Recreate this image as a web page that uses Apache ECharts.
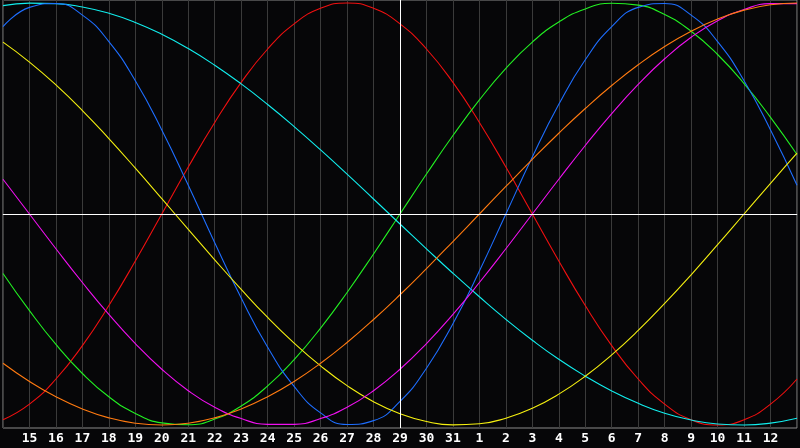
<!DOCTYPE html>
<html><head><meta charset="utf-8">
<script src="https://cdn.jsdelivr.net/npm/echarts@6/dist/echarts.min.js"></script>
<style>html,body{margin:0;padding:0;background:#060608;}#c{width:800px;height:448px;}</style>
</head><body><div id="c"></div>
<script>
var days = ['14','15','16','17','18','19','20','21','22','23','24','25','26','27','28','29','30','31','1','2','3','4','5','6','7','8','9','10','11','12','13'];
var today = '29';
var red = [-0.9749,-0.9010,-0.7818,-0.6235,-0.4339,-0.2225,0,0.2225,0.4339,0.6235,0.7818,0.9010,0.9749,1,0.9749,0.9010,0.7818,0.6235,0.4339,0.2225,0,-0.2225,-0.4339,-0.6235,-0.7818,-0.9010,-0.9749,-1,-0.9749,-0.9010,-0.7818];
var green = [-0.2817,-0.4580,-0.6181,-0.7557,-0.8660,-0.9450,-0.9898,-0.9989,-0.9718,-0.9096,-0.8146,-0.6901,-0.5406,-0.3717,-0.1893,0,0.1893,0.3717,0.5406,0.6901,0.8146,0.9096,0.9718,0.9989,0.9898,0.9450,0.8660,0.7557,0.6181,0.4580,0.2817];
var cyan = [0.9872,0.9991,0.9970,0.9809,0.9511,0.9078,0.8519,0.7839,0.7050,0.6163,0.5189,0.4142,0.3036,0.1886,0.0710,-0.0474,-0.1652,-0.2809,-0.3922,-0.4990,-0.5980,-0.6886,-0.7685,-0.8386,-0.8972,-0.9440,-0.9762,-0.9950,-0.9998,-0.9907,-0.9677];
var blue = [0.8879,0.9791,0.9977,0.9423,0.8170,0.6311,0.3984,0.1362,-0.1362,-0.3984,-0.6311,-0.8170,-0.9423,-0.9977,-0.9791,-0.8879,-0.7308,-0.5196,-0.2698,0,0.2698,0.5196,0.7308,0.8879,0.9791,0.9977,0.9423,0.8170,0.6311,0.3984,0.1362];
var yellow = [0.8142,0.7199,0.6115,0.4903,0.3572,0.2173,0.0730,-0.0730,-0.2173,-0.3572,-0.4903,-0.6115,-0.7199,-0.8133,-0.8893,-0.9464,-0.9834,-0.9993,-0.9940,-0.9675,-0.9203,-0.8536,-0.7687,-0.6673,-0.5516,-0.4236,-0.2879,-0.1455,0,0.1455,0.2879];
var magenta = [0.1646,0,-0.1646,-0.3247,-0.4759,-0.6142,-0.7357,-0.8372,-0.9158,-0.9694,-0.9966,-0.9966,-0.9694,-0.9158,-0.8372,-0.7357,-0.6142,-0.4759,-0.3247,-0.1646,0,0.1646,0.3247,0.4759,0.6142,0.7357,0.8372,0.9158,0.9694,0.9966,0.9966];
var orange = [-0.7071,-0.7934,-0.8660,-0.9239,-0.9659,-0.9914,-1,-0.9914,-0.9659,-0.9239,-0.8660,-0.7934,-0.7071,-0.6088,-0.5,-0.3827,-0.2588,-0.1305,0,0.1305,0.2588,0.3827,0.5,0.6088,0.7071,0.7934,0.8660,0.9239,0.9659,0.9914,1];

var seriesDefs = [
  {name:'red', data:red, color:'#f01010'},
  {name:'green', data:green, color:'#22f022'},
  {name:'cyan', data:cyan, color:'#11eeee'},
  {name:'blue', data:blue, color:'#1e6eff'},
  {name:'yellow', data:yellow, color:'#f5f010'},
  {name:'magenta', data:magenta, color:'#f010f0'},
  {name:'orange', data:orange, color:'#ff7a10'}
];
var chart = echarts.init(document.getElementById('c'));
var series = seriesDefs.map(function(s){
  return {type:'line', name:s.name, data:s.data, smooth:0.5, symbol:'none', silent:true,
    lineStyle:{color:s.color, width:1.1}, itemStyle:{color:s.color}, z:3, animation:false};
});
series.push({type:'line', data:[], silent:true, animation:false, z:2,
  markLine:{silent:true, symbol:'none', label:{show:false}, animation:false,
    lineStyle:{color:'#ffffff', width:1, type:'solid'},
    data:[{xAxis:today},{yAxis:0}]}});
chart.setOption({
  backgroundColor:'#060608',
  animation:false,
  grid:{left:0, right:0, top:0, bottom:20, show:true, borderColor:'#8a8a8a', borderWidth:1, backgroundColor:'transparent'},
  xAxis:{type:'category', data:days, boundaryGap:false,
    axisLine:{show:true, lineStyle:{color:'#8a8a8a', width:1}},
    axisTick:{show:false},
    splitLine:{show:true, interval:0, lineStyle:{color:'#3a3a3a', width:1}},
    axisLabel:{interval:0, color:'#ffffff', fontFamily:'DejaVu Sans Mono', fontWeight:'bold', fontSize:13, margin:4,
      formatter:function(v,i){return (i===0||i===days.length-1)?'':v;}}},
  yAxis:{type:'value', min:-1.014, max:1.014, show:true,
    axisLine:{show:false}, axisTick:{show:false}, axisLabel:{show:false}, splitLine:{show:false}},
  series:series
});
</script></body></html>
